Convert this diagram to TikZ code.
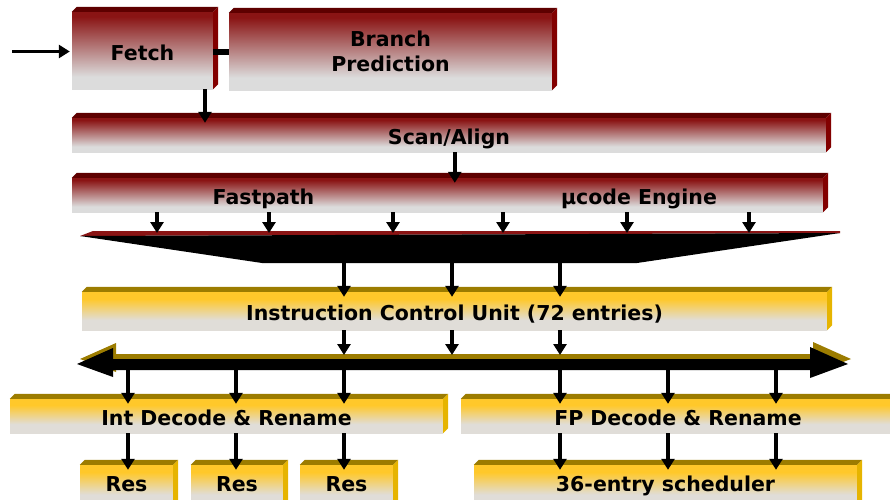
\documentclass[tikz,border=0pt]{standalone}
\usepackage{fontspec}
\setmainfont{DejaVu Sans}
\usetikzlibrary{arrows.meta,calc}
\definecolor{rtop}{HTML}{8A1414}
\definecolor{rbot}{HTML}{DCDCDC}
\definecolor{rface}{HTML}{5E0000}
\definecolor{rside}{HTML}{820000}
\definecolor{gtop}{HTML}{FFC82A}
\definecolor{gbot}{HTML}{E0DDD8}
\definecolor{gface}{HTML}{9C7C00}
\definecolor{gside}{HTML}{E6B400}
\pgfdeclareverticalshading{redsh}{100bp}{color(0bp)=(rbot); color(25bp)=(rbot); color(33bp)=(rbot); color(72bp)=(rtop); color(100bp)=(rtop)}
\pgfdeclareverticalshading{goldsh}{100bp}{color(0bp)=(gbot); color(25bp)=(gbot); color(38bp)=(gbot); color(66bp)=(gtop); color(100bp)=(gtop)}
\begin{document}
\begin{tikzpicture}[x=1pt,y=-1pt,
  lbl/.style={font=\fontsize{20.5}{25}\selectfont\bfseries, inner sep=0pt, text=black, text height=19pt, text depth=0pt},
  redbox/.style={lbl, shade, shading=redsh},
  goldbox/.style={lbl, shade, shading=goldsh},
  lowbox/.style={goldbox, minimum height=40pt, text height=12pt, text depth=0pt},
  arr/.style={line width=3.5pt, -{Triangle[width=13pt,length=11pt]}}]
\useasboundingbox (0,0) rectangle (890,499);
% columns
\foreach \x in {128,157,205,236,269,344,393,452,503,560,627,668,749,776}
  {\coordinate (c\x) at (\x,0);}
% red boxes
\node[redbox, minimum width=141pt, minimum height=77pt] (fetch) at (142.5,50.5) {Fetch};
\node[redbox, minimum width=323pt, minimum height=77pt, align=center, text height=, text depth=] (branch) at (390.5,51.5) {Branch\\Prediction};
\node[redbox, minimum width=754pt, minimum height=34pt] (scan) at (449,135) {Scan/Align};
\node[redbox, minimum width=383pt, minimum height=34pt] (fast) at (263.5,195) {Fastpath};
\node[redbox, minimum width=368pt, minimum height=34pt] (mucode) at (639,195) {µcode Engine};
\fill[rface] (fast.north west) -- ++(5,-5) -- ($(fast.north east)+(5,-5)$) -- (fast.north east) -- cycle;
\foreach \n in {fetch,branch,scan,mucode} {
  \fill[rface] (\n.north west) -- ++(5,-5) -- ($(\n.north east)+(5,-5)$) -- (\n.north east) -- cycle;
  \fill[rside] (\n.north east) -- ++(5,-5) -- ($(\n.south east)+(5,-5)$) -- (\n.south east) -- cycle;
}
% gold boxes
\node[goldbox, minimum width=745pt, minimum height=38pt] (icu) at (454.5,311) {Instruction Control Unit (72 entries)};
\node[goldbox, minimum width=433pt, minimum height=34pt] (intd) at (226.5,416) {Int Decode \& Rename};
\node[goldbox, minimum width=434pt, minimum height=34pt] (fpd) at (678,416) {FP Decode \& Rename};
\node[lowbox, minimum width=93pt] (res1) at (126.5,485) {Res};
\node[lowbox, minimum width=92pt] (res2) at (237,485) {Res};
\node[lowbox, minimum width=93pt] (res3) at (346.5,485) {Res};
\node[lowbox, minimum width=383pt] (sched) at (665.5,485) {36-entry scheduler};
\foreach \n in {icu,intd,fpd,res1,res2,res3,sched} {
  \fill[gface] (\n.north west) -- ++(5,-5) -- ($(\n.north east)+(5,-5)$) -- (\n.north east) -- cycle;
  \fill[gside] (\n.north east) -- ++(5,-5) -- ($(\n.south east)+(5,-5)$) -- (\n.south east) -- cycle;
}
% funnel
\coordinate (fTL) at (80,236);
\coordinate (fTR) at (840,233);
\coordinate (fBR) at (637,263);
\coordinate (fBL) at (262,263);
\fill[rtop] (fTL) -- (93,231) -- (840,231) -- (fTR) -- cycle;
\fill[black] (fTL) -- (fTR) -- (fBR) -- (fBL) -- cycle;
% bus
\coordinate (busT) at (0,355);
\coordinate (busB) at (0,370);
\fill[gface, shift={(3,-5)}] (77,364) -- (113,348) -- (113,359) -- (810,359) -- (810,347) -- (848,364) -- (810,378) -- (810,370) -- (113,370) -- (113,377) -- cycle;
\fill[black] (77,364) -- (113,348) -- (113,359) -- (810,359) -- (810,347) -- (848,364) -- (810,378) -- (810,370) -- (113,370) -- (113,377) -- cycle;
% connectors
\coordinate (in) at (12,51.5);
\draw[arr, shorten >=2pt] (in) -- (fetch.west |- in);
\draw[line width=6pt] (fetch.east |- in) -- (branch.west |- in);
\draw[arr, shorten >=-5pt] (fetch.south -| c205) -- (scan.north -| c205);
\draw[arr, shorten >=-5pt] (scan.south -| mucode.west) -- (mucode.north west);
\foreach \x in {157,269,393} {\draw[arr] (fast.south -| c\x) -- (fTR -| c\x);}
\foreach \x in {503,627,749} {\draw[arr] (mucode.south -| c\x) -- (fTR -| c\x);}
\foreach \x in {344,452,560} {
  \draw[arr, shorten >=-5pt] (fBL -| c\x) -- (icu.north -| c\x);
  \draw[arr] (icu.south -| c\x) -- (busT -| c\x);
}
\foreach \x in {128,236,344} {\draw[arr, shorten >=-5pt] (busB -| c\x) -- (intd.north -| c\x);}
\foreach \x in {560,668,776} {\draw[arr, shorten >=-5pt] (busB -| c\x) -- (fpd.north -| c\x);}
\draw[arr, shorten >=-5pt] (intd.south -| c128) -- (res1.north -| c128);
\draw[arr, shorten >=-5pt] (intd.south -| c236) -- (res2.north -| c236);
\draw[arr, shorten >=-5pt] (intd.south -| c344) -- (res3.north -| c344);
\foreach \x in {560,668,776} {\draw[arr, shorten >=-5pt] (fpd.south -| c\x) -- (sched.north -| c\x);}
\end{tikzpicture}
\end{document}
